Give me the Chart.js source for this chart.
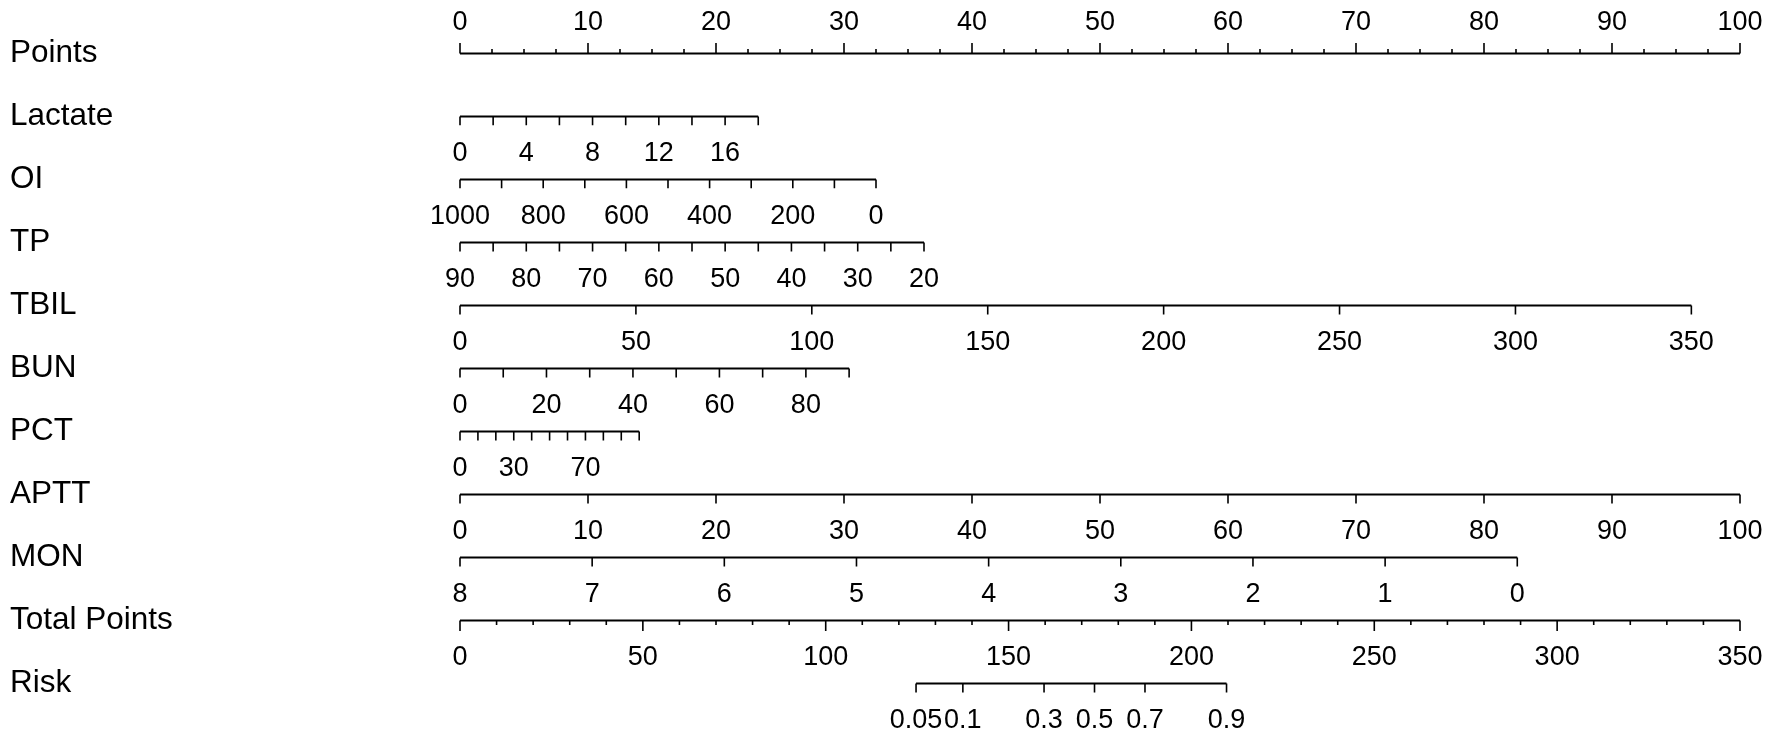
<!DOCTYPE html>
<html>
<head>
<meta charset="utf-8">
<script src="https://cdn.jsdelivr.net/npm/chart.js@4/dist/chart.umd.min.js"></script>
<style>
  html, body { margin: 0; padding: 0; background: #fff; }
</style>
</head>
<body>
<canvas id="nomo" width="1772" height="737"></canvas>
<script>
// nomogram rows, top to bottom
const ROW_NAMES = ['Points', 'Lactate', 'OI', 'TP', 'TBIL', 'BUN', 'PCT', 'APTT', 'MON', 'Total Points', 'Risk'];

// Points scale (0-100)
const POINTS_MAJOR = [0, 10, 20, 30, 40, 50, 60, 70, 80, 90, 100];
const POINTS_MINOR = [2.5, 5, 7.5, 12.5, 15, 17.5, 22.5, 25, 27.5, 32.5, 35, 37.5, 42.5, 45, 47.5,
  52.5, 55, 57.5, 62.5, 65, 67.5, 72.5, 75, 77.5, 82.5, 85, 87.5, 92.5, 95, 97.5];

// predictors: ticks, labelled ticks, and points reached at each end of the range
const LACTATE_TICKS  = [0, 2, 4, 6, 8, 10, 12, 14, 16, 18];
const LACTATE_LABELS = [0, 4, 8, 12, 16];
const LACTATE_RANGE  = [0, 18];
const LACTATE_POINTS = [0, 23.3];

const OI_TICKS  = [1000, 900, 800, 700, 600, 500, 400, 300, 200, 100, 0];
const OI_LABELS = [1000, 800, 600, 400, 200, 0];
const OI_RANGE  = [1000, 0];
const OI_POINTS = [0, 32.5];

const TP_TICKS  = [90, 85, 80, 75, 70, 65, 60, 55, 50, 45, 40, 35, 30, 25, 20];
const TP_LABELS = [90, 80, 70, 60, 50, 40, 30, 20];
const TP_RANGE  = [90, 20];
const TP_POINTS = [0, 36.25];

const TBIL_TICKS  = [0, 50, 100, 150, 200, 250, 300, 350];
const TBIL_LABELS = [0, 50, 100, 150, 200, 250, 300, 350];
const TBIL_RANGE  = [0, 350];
const TBIL_POINTS = [0, 96.2];

const BUN_TICKS  = [0, 10, 20, 30, 40, 50, 60, 70, 80, 90];
const BUN_LABELS = [0, 20, 40, 60, 80];
const BUN_RANGE  = [0, 90];
const BUN_POINTS = [0, 30.4];

const PCT_TICKS  = [0, 10, 20, 30, 40, 50, 60, 70, 80, 90, 100];
const PCT_LABELS = [0, 30, 70];
const PCT_RANGE  = [0, 100];
const PCT_POINTS = [0, 14.0];

const APTT_TICKS  = [0, 10, 20, 30, 40, 50, 60, 70, 80, 90, 100];
const APTT_LABELS = [0, 10, 20, 30, 40, 50, 60, 70, 80, 90, 100];
const APTT_RANGE  = [0, 100];
const APTT_POINTS = [0, 100];

const MON_TICKS  = [8, 7, 6, 5, 4, 3, 2, 1, 0];
const MON_LABELS = [8, 7, 6, 5, 4, 3, 2, 1, 0];
const MON_RANGE  = [8, 0];
const MON_POINTS = [0, 82.6];

// Total points (0-350 over the same width as Points 0-100)
const TOTAL_MAJOR = [0, 50, 100, 150, 200, 250, 300, 350];
const TOTAL_MINOR = [10, 20, 30, 40, 60, 70, 80, 90, 110, 120, 130, 140, 160, 170, 180, 190,
  210, 220, 230, 240, 260, 270, 280, 290, 310, 320, 330, 340];
const TOTAL_MAX = 350;

// Risk ticks, placed on the total-points scale
const RISK_LABELS = ['0.05', '0.1', '0.3', '0.5', '0.7', '0.9'];
const RISK_TOTAL  = [124.7, 137.5, 159.7, 173.5, 187.3, 209.6];

const INK = '#000';
const FONT = '"Liberation Sans", Arial, sans-serif';
const TICK_LEN = 0.142;   // in row units
const MAJOR_LEN = 0.165;
const MINOR_LEN = 0.07;

function toPts(v, range, pts) {
  return pts[0] + (v - range[0]) / (range[1] - range[0]) * (pts[1] - pts[0]);
}
const totalToPts = t => t / TOTAL_MAX * 100;

// each variable row: x positions (in points) of ticks and labels
const rows = [
  { row: 0, up: true,
    major: POINTS_MAJOR, minor: POINTS_MINOR,
    labels: POINTS_MAJOR.map(v => ({ x: v, text: String(v) })) },
];
[
  [1, LACTATE_TICKS, LACTATE_LABELS, LACTATE_RANGE, LACTATE_POINTS],
  [2, OI_TICKS, OI_LABELS, OI_RANGE, OI_POINTS],
  [3, TP_TICKS, TP_LABELS, TP_RANGE, TP_POINTS],
  [4, TBIL_TICKS, TBIL_LABELS, TBIL_RANGE, TBIL_POINTS],
  [5, BUN_TICKS, BUN_LABELS, BUN_RANGE, BUN_POINTS],
  [6, PCT_TICKS, PCT_LABELS, PCT_RANGE, PCT_POINTS],
  [7, APTT_TICKS, APTT_LABELS, APTT_RANGE, APTT_POINTS],
  [8, MON_TICKS, MON_LABELS, MON_RANGE, MON_POINTS],
].forEach(([row, ticks, labels, range, pts]) => {
  rows.push({
    row, up: false,
    major: ticks.map(v => toPts(v, range, pts)), minor: [],
    labels: labels.map(v => ({ x: toPts(v, range, pts), text: String(v) })),
  });
});
rows.push({ row: 9, up: false,
  major: TOTAL_MAJOR.map(totalToPts), minor: TOTAL_MINOR.map(totalToPts), big: true,
  labels: TOTAL_MAJOR.map(v => ({ x: totalToPts(v), text: String(v) })) });
rows.push({ row: 10, up: false,
  major: RISK_TOTAL.map(totalToPts), minor: [],
  labels: RISK_TOTAL.map((t, i) => ({ x: totalToPts(t), text: RISK_LABELS[i] })) });

function segs(xs, y, len) {
  const out = [];
  xs.forEach(x => { out.push({ x, y }, { x, y: y + len }, { x: null, y: null }); });
  return out;
}

const datasets = [];
rows.forEach(r => {
  const all = r.major.concat(r.minor);
  const lo = Math.min(...all), hi = Math.max(...all);
  const dir = r.up ? -1 : 1;
  const majLen = (r.row === 0 || r.big) ? MAJOR_LEN : TICK_LEN;
  datasets.push({ data: [{ x: lo, y: r.row }, { x: hi, y: r.row }], borderWidth: 2 });
  datasets.push({ data: segs(r.major, r.row, dir * majLen), borderWidth: 1.6 });
  if (r.minor.length) datasets.push({ data: segs(r.minor, r.row, dir * MINOR_LEN), borderWidth: 1.6 });
});
datasets.forEach(d => Object.assign(d, {
  showLine: true, spanGaps: false, pointRadius: 0, borderColor: INK,
  borderCapStyle: 'butt', clip: false,
}));

const tickLabels = {
  id: 'tickLabels',
  afterDatasetsDraw(chart) {
    const { ctx, scales: { x, y } } = chart;
    ctx.save();
    ctx.fillStyle = INK;
    ctx.font = '27px ' + FONT;
    ctx.textAlign = 'center';
    ctx.textBaseline = 'middle';
    rows.forEach(r => {
      const yp = y.getPixelForValue(r.row) + (r.up ? -31 : 37);
      r.labels.forEach(l => ctx.fillText(l.text, x.getPixelForValue(l.x), yp));
    });
    ctx.restore();
  },
};

new Chart(document.getElementById('nomo'), {
  type: 'scatter',
  data: { datasets },
  options: {
    responsive: false,
    animation: false,
    layout: { padding: { left: 10, right: 32, top: 18, bottom: 22 } },
    scales: {
      x: { type: 'linear', min: 0, max: 100, display: false },
      y: {
        type: 'linear', min: -0.5, max: 10.5, reverse: true,
        afterBuildTicks: s => { s.ticks = ROW_NAMES.map((_, i) => ({ value: i })); },
        afterFit: s => { s.width = 450; },
        grid: { display: false },
        border: { display: false },
        ticks: {
          crossAlign: 'far', autoSkip: false, color: INK,
          font: { family: FONT, size: 31.5 },
          callback: v => ROW_NAMES[v],
        },
      },
    },
    plugins: { legend: { display: false }, tooltip: { enabled: false } },
  },
  plugins: [tickLabels],
});
</script>
</body>
</html>
